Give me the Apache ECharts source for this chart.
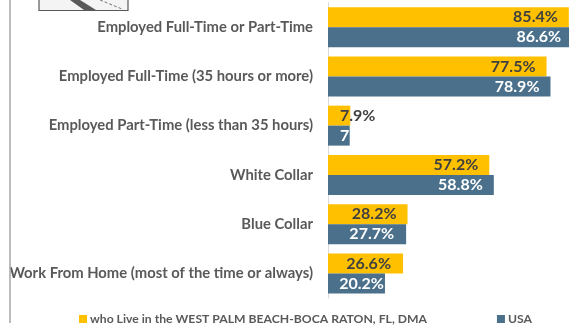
<!DOCTYPE html>
<html><head><meta charset="utf-8">
<style>html,body{margin:0;padding:0;background:#fff}#c{width:569px;height:331px}</style>
<script src="https://cdn.jsdelivr.net/npm/echarts@6/dist/echarts.min.js"></script></head>
<body><div id="c"></div>
<script>
const categories = ['Employed Full-Time or Part-Time','Employed Full-Time (35 hours or more)','Employed Part-Time (less than 35 hours)','White Collar','Blue Collar','Work From Home (most of the time or always)'];
const seriesNames = ['who Live in the WEST PALM BEACH-BOCA RATON, FL, DMA','USA'];
const localValues = [85.4,77.5,7.9,57.2,28.2,26.6];
const usaValues = [86.6,78.9,7.7,58.8,27.7,20.2];

const chart = echarts.init(document.getElementById('c'), null, {renderer:'canvas'});
const labelFont = {fontFamily:'Lato',fontWeight:'bold',fontSize:16};
function itemData(values, inner){
  return values.map((v,i)=>{
    const small = i===2;
    const lab = small ? {position:'insideLeft',distance:12}
      : {position:'insideRight',distance: inner[i]};
    return {value:v,label:lab};
  });
}
chart.setOption({
  animation:false,
  grid:{left:328,top:2.5,width:282,bottom:33,outerBoundsMode:'none'},
  xAxis:{type:'value',min:0,max:100,show:false},
  yAxis:{type:'category',inverse:true,data:categories,
    axisLine:{show:true,lineStyle:{color:'#d9d9d9',width:1}},axisTick:{show:false},
    axisLabel:{color:'#595959',fontFamily:'Lato',fontWeight:'bold',fontSize:14.8,margin:15}},
  legend:{left:79,top:313,padding:0,itemWidth:8,itemHeight:8,itemGap:70,icon:'rect',
    textStyle:{color:'#595959',fontFamily:'Lato',fontWeight:'bold',fontSize:12.2,padding:[0,0,0,-2]},
    data:seriesNames},
  series:[
    {name:seriesNames[0],type:'bar',barWidth:20,barGap:'0%',
     itemStyle:{color:'#ffc000'},
     label:{show:true,formatter:p=>p.value.toFixed(1)+'%',color:'#404040',...labelFont},
     data:itemData(localValues,[11,11,11,11,11,12])},
    {name:seriesNames[1],type:'bar',barWidth:20,
     itemStyle:{color:'#4a708b'},
     label:{show:true,formatter:p=>p.value.toFixed(1)+'%',color:'#fff',...labelFont},
     data:itemData(usaValues,[11,11,11,11,12,1])}
  ],
  graphic:[
    {type:'line',silent:true,shape:{x1:10,y1:0,x2:10,y2:323},style:{stroke:'#a6a6a6',lineWidth:1.5},z:10},
    {type:'rect',silent:true,shape:{x:39,y:-3,width:89,height:13.5},style:{fill:'#f4f4f4',stroke:'#595959',lineWidth:1.2}},
    {type:'polygon',silent:true,shape:{points:[[70,0],[80,0],[96,10],[84,10]]},style:{fill:'#5a5a5a'}},
    {type:'polyline',silent:true,shape:{points:[[100,0],[122,9]]},style:{stroke:'#777',lineWidth:1,lineDash:[3,2]}}
  ]
});
</script></body></html>
